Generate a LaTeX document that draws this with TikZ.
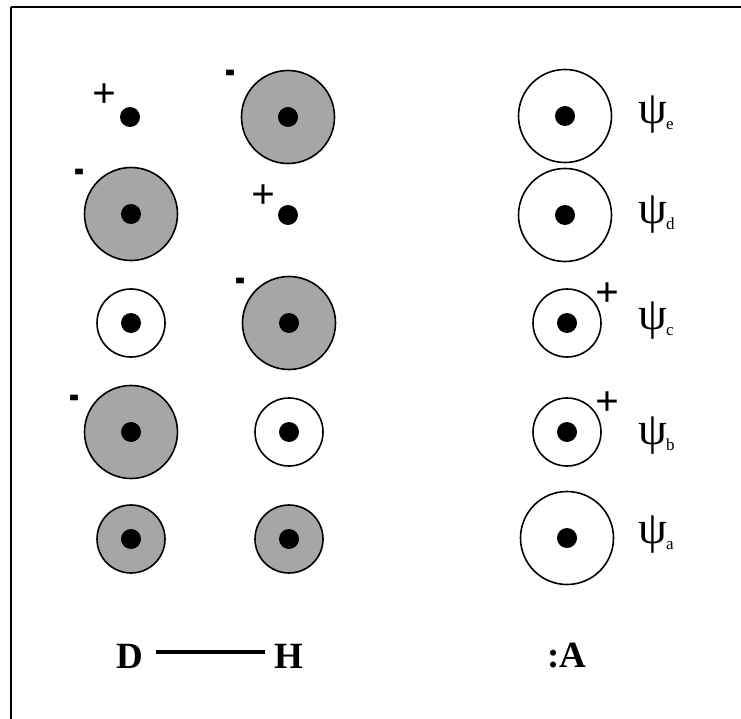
\documentclass[tikz,border=0pt]{standalone}
\usepackage{fontspec}
\setmainfont{Liberation Serif}
\begin{document}
\begin{tikzpicture}[x=1pt,y=-1pt,
  big/.style={circle,draw=black,line width=1.6pt,minimum size=93pt,inner sep=0pt},
  small/.style={circle,draw=black,line width=1.6pt,minimum size=68pt,inner sep=0pt},
  shaded/.style={fill=black!35},
  dotn/.style={circle,fill=black,minimum size=20pt,inner sep=0pt},
  plus/.style={inner sep=0pt,font=\bfseries\fontsize{42}{42}\selectfont},
  minus/.style={inner sep=0pt,font=\bfseries\fontsize{30}{30}\selectfont},
  psilab/.style={inner sep=0pt,anchor=west},
  bottomlab/.style={inner sep=0pt,font=\bfseries\fontsize{37}{37}\selectfont}
]
\useasboundingbox (0,0) rectangle (741,719);
\coordinate (fbl) at (11,719);
\coordinate (ftl) at (11,7);
\coordinate (ftr) at (741,7);
\draw[line width=2.6pt] (fbl) -- (ftl);
\draw[line width=1.6pt] (ftl) -- (ftr);

\newcommand{\psil}[1]{{\fontsize{46}{46}\selectfont ψ}\kern-1pt\raisebox{-6pt}{\fontsize{17}{17}\selectfont #1}}
\newcommand{\mns}{\scalebox{1}[2.2]{-}}

% row e
\node[dotn] (d1) at (130,117) {};
\node[plus] (d1p) at (104,96) {+};
\node[big,shaded] (h1) at (288,117) {};
\node[dotn] (h1n) at (288,117) {};
\node[minus] (h1m) at (230,79) {\mns};
\node[big] (a1) at (565,116) {};
\node[dotn] (a1n) at (565,116) {};
\node[psilab] (l1) at (638,115) {\psil{e}};

% row d
\node[big,shaded] (d2) at (131,214) {};
\node[dotn] (d2n) at (131,214) {};
\node[minus] (d2m) at (79,178) {\mns};
\node[dotn] (h2) at (288,215) {};
\node[plus] (h2p) at (263,197) {+};
\node[big] (a2) at (565,215) {};
\node[dotn] (a2n) at (565,215) {};
\node[psilab] (l2) at (638,215) {\psil{d}};

% row c
\node[small] (d3) at (131,323) {};
\node[dotn] (d3n) at (131,323) {};
\node[big,shaded] (h3) at (289,323) {};
\node[dotn] (h3n) at (289,323) {};
\node[minus] (h3m) at (240,287) {\mns};
\node[small] (a3) at (567,323) {};
\node[dotn] (a3n) at (567,323) {};
\node[plus] (a3p) at (607,295) {+};
\node[psilab] (l3) at (638,321) {\psil{c}};

% row b
\node[big,shaded] (d4) at (131,432) {};
\node[dotn] (d4n) at (131,432) {};
\node[minus] (d4m) at (74,404) {\mns};
\node[small] (h4) at (289,432) {};
\node[dotn] (h4n) at (289,432) {};
\node[small] (a4) at (567,432) {};
\node[dotn] (a4n) at (567,432) {};
\node[plus] (a4p) at (607,404) {+};
\node[psilab] (l4) at (638,436) {\psil{b}};

% row a
\node[small,shaded] (d5) at (131,539) {};
\node[dotn] (d5n) at (131,539) {};
\node[small,shaded] (h5) at (289,539) {};
\node[dotn] (h5n) at (289,539) {};
\node[big] (a5) at (567,538) {};
\node[dotn] (a5n) at (567,538) {};
\node[psilab] (l5) at (638,535) {\psil{a}};

% bottom labels
\node[bottomlab] (D) at (130,656) {D};
\node[bottomlab] (H) at (289,656) {H};
\draw[line width=4.5pt,shorten <=12pt,shorten >=9pt] ([yshift=4pt]D.east) -- ([yshift=4pt]H.west);
\node[bottomlab] (A) at (567,656) {:A};
\end{tikzpicture}
\end{document}
